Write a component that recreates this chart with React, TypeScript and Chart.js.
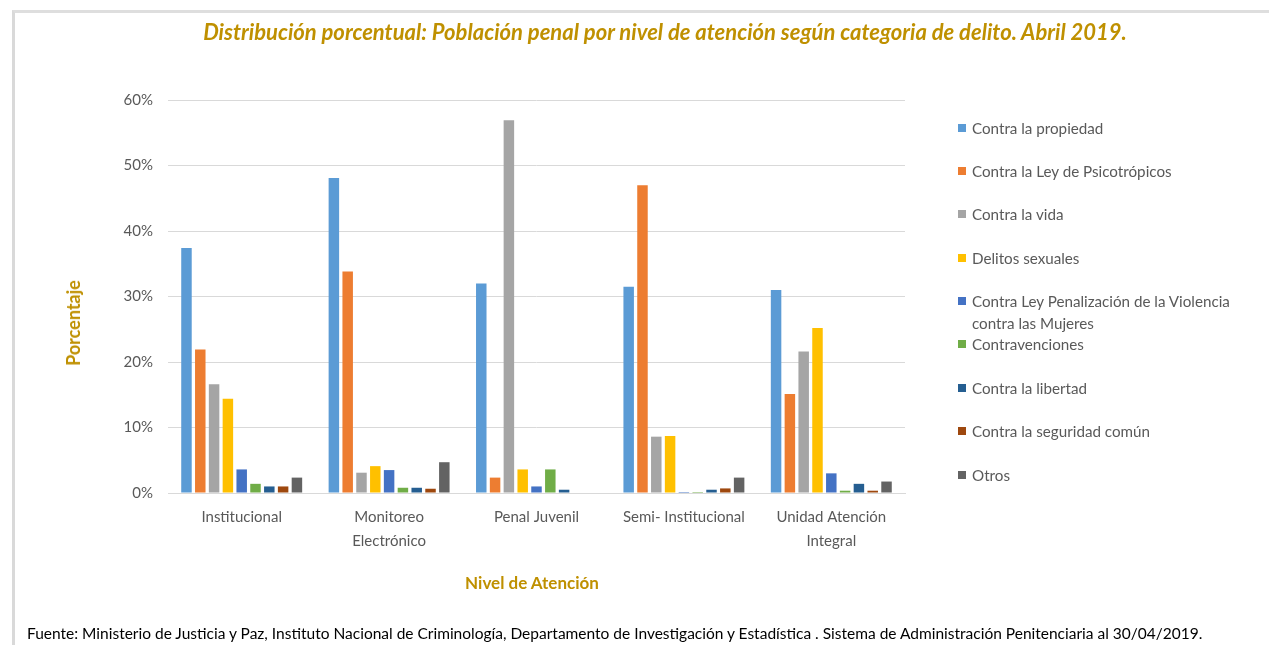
import React, { useEffect, useRef } from "react";
import { Chart, registerables } from "chart.js";

Chart.register(...registerables);

const categories: (string | string[])[] = [
  "Institucional",
  ["Monitoreo", "Electrónico"],
  "Penal Juvenil",
  "Semi- Institucional",
  ["Unidad Atención", "Integral"],
];

const seriesNames = [
  "Contra la propiedad",
  "Contra la Ley de Psicotrópicos",
  "Contra la vida",
  "Delitos sexuales",
  "Contra Ley Penalización de la Violencia contra las Mujeres",
  "Contravenciones",
  "Contra la libertad",
  "Contra la seguridad común",
  "Otros",
];

const seriesColors = [
  "#5B9BD5",
  "#ED7D31",
  "#A5A5A5",
  "#FFC000",
  "#4472C4",
  "#70AD47",
  "#255E91",
  "#9E480E",
  "#636363",
];

const contraPropiedad = [37.4, 48.1, 32.0, 31.5, 31.0];
const contraPsicotropicos = [21.9, 33.8, 2.35, 47.0, 15.1];
const contraVida = [16.6, 3.1, 56.9, 8.6, 21.6];
const delitosSexuales = [14.4, 4.1, 3.6, 8.7, 25.2];
const contraViolenciaMujeres = [3.6, 3.5, 1.0, 0.15, 3.0];
const contravenciones = [1.4, 0.8, 3.6, 0.15, 0.35];
const contraLibertad = [1.0, 0.8, 0.5, 0.5, 1.4];
const contraSeguridad = [1.0, 0.65, 0, 0.7, 0.35];
const otros = [2.35, 4.7, 0, 2.35, 1.75];

const seriesValues = [
  contraPropiedad,
  contraPsicotropicos,
  contraVida,
  delitosSexuales,
  contraViolenciaMujeres,
  contravenciones,
  contraLibertad,
  contraSeguridad,
  otros,
];

const yTicks = [0, 10, 20, 30, 40, 50, 60];

const FONT = "Lato, 'Open Sans', sans-serif";
const GOLD = "#BF9000";
const GREY = "#595959";

export default function App() {
  const canvasRef = useRef<HTMLCanvasElement | null>(null);

  useEffect(() => {
    const canvas = canvasRef.current;
    if (!canvas) return;
    const chart = new Chart(canvas, {
      type: "bar",
      data: {
        labels: categories,
        datasets: seriesNames.map((name, i) => ({
          label: name,
          data: seriesValues[i],
          backgroundColor: seriesColors[i],
          borderWidth: 0,
          categoryPercentage: 0.843,
          barPercentage: 0.76,
        })),
      },
      options: {
        responsive: false,
        animation: false,
        maintainAspectRatio: false,
        layout: { padding: { left: 0, top: 100, right: 364, bottom: 0 } },
        plugins: {
          legend: { display: false },
          title: { display: false },
          tooltip: { enabled: false },
        },
        scales: {
          x: {
            afterFit: (s: any) => {
              s.height = 152;
            },
            grid: { display: false, drawTicks: false },
            border: { display: true, color: "#D9D9D9", width: 1 },
            ticks: {
              color: GREY,
              padding: 13,
              maxRotation: 0,
              autoSkip: false,
              font: { family: FONT, size: 15, lineHeight: 1.55 },
            },
          },
          y: {
            min: 0,
            max: 60,
            afterFit: (s: any) => {
              s.width = 168;
            },
            afterBuildTicks: (s: any) => {
              s.ticks = yTicks.map((v) => ({ value: v }));
            },
            grid: { color: "#D9D9D9", lineWidth: 1, drawTicks: false },
            border: { display: false },
            ticks: {
              color: GREY,
              padding: 15,
              font: { family: FONT, size: 15 },
              callback: (v: any) => `${v}%`,
            },
          },
        },
      },
    });
    return () => chart.destroy();
  }, []);

  const legendY = [128, 171, 214, 258, 301, 344, 388, 431, 475];

  return (
    <div
      style={{
        position: "fixed",
        left: 0,
        top: 0,
        width: 1269,
        height: 645,
        background: "#fff",
        overflow: "hidden",
        fontFamily: FONT,
      }}
    >
      <div
        style={{
          position: "absolute",
          left: 12,
          top: 10,
          width: 1400,
          height: 800,
          borderLeft: "3px solid #D9D9D9",
          borderTop: "3px solid #DEDEDE",
        }}
      />
      <canvas
        ref={canvasRef}
        width={1269}
        height={645}
        style={{ position: "absolute", left: 0, top: 0 }}
      />
      <div
        style={{
          position: "absolute",
          left: 0,
          width: 1330,
          top: 19,
          textAlign: "center",
          color: GOLD,
          fontWeight: 700,
          fontStyle: "italic",
          fontSize: 22,
          lineHeight: "26px",
          whiteSpace: "nowrap",
        }}
      >
        Distribución porcentual: Población penal por nivel de atención según categoria de delito. Abril 2019.
      </div>
      <div
        style={{
          position: "absolute",
          left: 73,
          top: 323,
          transform: "translate(-50%, -50%) rotate(-90deg)",
          color: GOLD,
          fontWeight: 700,
          fontSize: 18,
          whiteSpace: "nowrap",
        }}
      >
        Porcentaje
      </div>
      <div
        style={{
          position: "absolute",
          left: 532,
          top: 582,
          transform: "translate(-50%, -50%)",
          color: GOLD,
          fontWeight: 700,
          fontSize: 17,
          whiteSpace: "nowrap",
        }}
      >
        Nivel de Atención
      </div>
      {seriesNames.map((name, i) => (
        <div
          key={name}
          style={{
            position: "absolute",
            left: 958,
            top: legendY[i] - 11,
            color: GREY,
            fontSize: 15.2,
            lineHeight: "22px",
            width: 295,
          }}
        >
          <span
            style={{
              position: "absolute",
              left: 0,
              top: 7,
              width: 8,
              height: 8,
              background: seriesColors[i],
            }}
          />
          <span style={{ display: "block", marginLeft: 14 }}>{name}</span>
        </div>
      ))}
      <div
        style={{
          position: "absolute",
          left: 27,
          top: 623,
          color: "#000",
          fontSize: 15.5,
          lineHeight: "20px",
          whiteSpace: "nowrap",
        }}
      >
        Fuente: Ministerio de Justicia y Paz, Instituto Nacional de Criminología, Departamento de Investigación y Estadística . Sistema de Administración Penitenciaria al 30/04/2019.
      </div>
    </div>
  );
}
